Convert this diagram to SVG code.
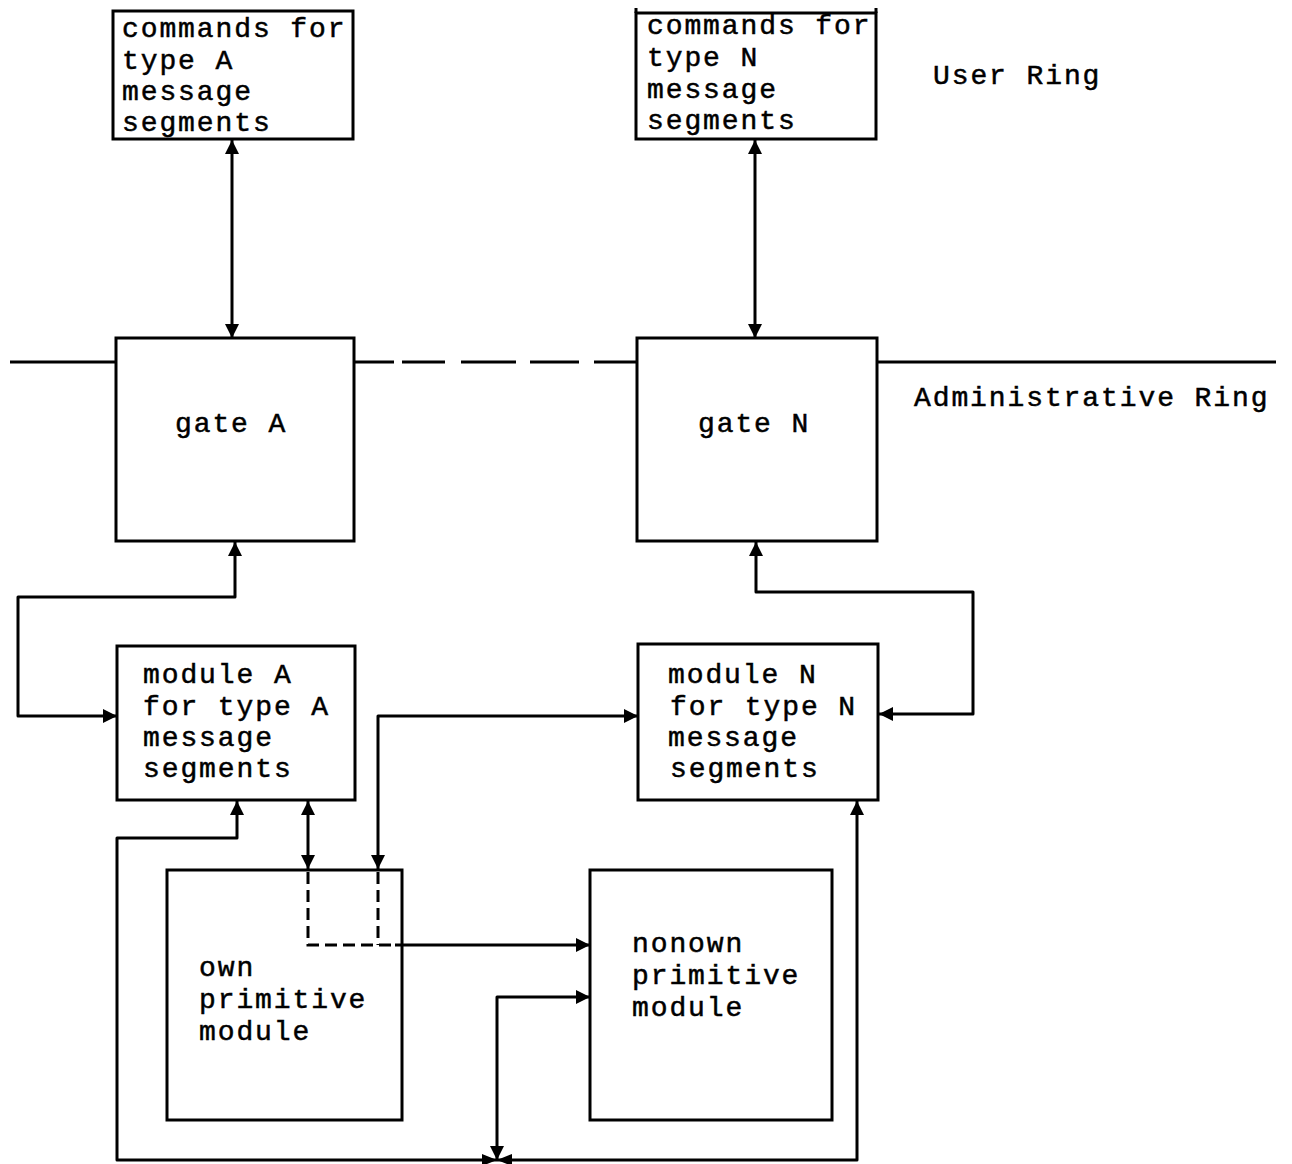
<svg xmlns="http://www.w3.org/2000/svg" width="1292" height="1164" viewBox="0 0 1292 1164">
<style>
.box{fill:#fff;stroke:#000;stroke-width:3}
.ln{fill:none;stroke:#000;stroke-width:3;stroke-linejoin:round}
.dash{fill:none;stroke:#000;stroke-width:3;stroke-dasharray:12 6}
.ring{fill:none;stroke:#000;stroke-width:3}
text{font-family:"Liberation Mono","DejaVu Sans Mono",monospace;font-size:28px;letter-spacing:1.9px;fill:#000;stroke:#000;stroke-width:0.5}
</style>
<defs>
<marker id="ah" viewBox="0 0 14 14" refX="14" refY="7" markerWidth="14" markerHeight="14" markerUnits="userSpaceOnUse" orient="auto-start-reverse">
<path d="M0,0 L14,7 L0,14 z" fill="#000"/>
</marker>
</defs>
<rect width="1292" height="1164" fill="#fff"/>
<g id="ring-lines">
<line class="ring" x1="10" y1="362" x2="116" y2="362"/>
<path class="ring" d="M354,362 H394 M402,362 H445 M461,362 H516 M530,362 H579 M594,362 H637"/>
<line class="ring" x1="877" y1="362" x2="1276" y2="362"/>
</g>
<g id="labels">
<text x="933" y="84">User Ring</text>
<text x="914" y="406">Administrative Ring</text>
</g>
<g id="cmdA">
<rect class="box" x="113" y="11" width="240" height="128"/>
<text x="122" y="37">commands for</text>
<text x="122" y="69">type A</text>
<text x="122" y="100">message</text>
<text x="122" y="131">segments</text>
</g>
<g id="cmdN">
<rect class="box" x="636" y="13" width="240" height="126"/>
<path class="ln" d="M636,8 V13 M876,8 V13"/>
<text x="647" y="34">commands for</text>
<text x="647" y="66">type N</text>
<text x="647" y="98">message</text>
<text x="647" y="129">segments</text>
</g>
<g id="gateA">
<rect class="box" x="116" y="338" width="238" height="203"/>
<text x="175" y="432">gate A</text>
</g>
<g id="gateN">
<rect class="box" x="637" y="338" width="240" height="203"/>
<text x="698" y="432">gate N</text>
</g>
<g id="moduleA">
<rect class="box" x="117" y="646" width="238" height="154"/>
<text x="143" y="683">module A</text>
<text x="143" y="715">for type A</text>
<text x="143" y="746">message</text>
<text x="143" y="777">segments</text>
</g>
<g id="moduleN">
<rect class="box" x="638" y="644" width="240" height="156"/>
<text x="668" y="683">module N</text>
<text x="670" y="715">for type N</text>
<text x="668" y="746">message</text>
<text x="670" y="777">segments</text>
</g>
<g id="own">
<rect class="box" x="167" y="870" width="235" height="250"/>
<text x="199" y="976">own</text>
<text x="199" y="1008">primitive</text>
<text x="199" y="1040">module</text>
</g>
<g id="nonown">
<rect class="box" x="590" y="870" width="242" height="250"/>
<text x="632" y="952">nonown</text>
<text x="632" y="984">primitive</text>
<text x="632" y="1016">module</text>
</g>
<g id="connectors">
<line class="ln" x1="232" y1="140" x2="232" y2="338" marker-start="url(#ah)" marker-end="url(#ah)"/>
<line class="ln" x1="755" y1="140" x2="755" y2="338" marker-start="url(#ah)" marker-end="url(#ah)"/>
<path class="ln" d="M117,716 H18 V597 H235 V542" marker-start="url(#ah)" marker-end="url(#ah)"/>
<path class="ln" d="M879,714 H973 V592 H756 V542" marker-start="url(#ah)" marker-end="url(#ah)"/>
<path class="ln" d="M378,869 V716 H638" marker-start="url(#ah)" marker-end="url(#ah)"/>
<line class="ln" x1="308" y1="801" x2="308" y2="869" marker-start="url(#ah)" marker-end="url(#ah)"/>
<path class="dash" d="M308,872 V945 H395"/>
<line class="dash" x1="378" y1="872" x2="378" y2="945"/>
<line class="ln" x1="395" y1="945" x2="590" y2="945" marker-end="url(#ah)"/>
<path class="ln" d="M237,801 V838 H117 V1160 H857 V801" marker-start="url(#ah)" marker-end="url(#ah)"/>
<path class="ln" d="M590,997 H497 V1160" marker-start="url(#ah)" marker-end="url(#ah)"/>
<path d="M482,1154 L497,1160 L482,1166 z M512,1154 L497,1160 L512,1166 z" fill="#000"/>
</g>
</svg>
